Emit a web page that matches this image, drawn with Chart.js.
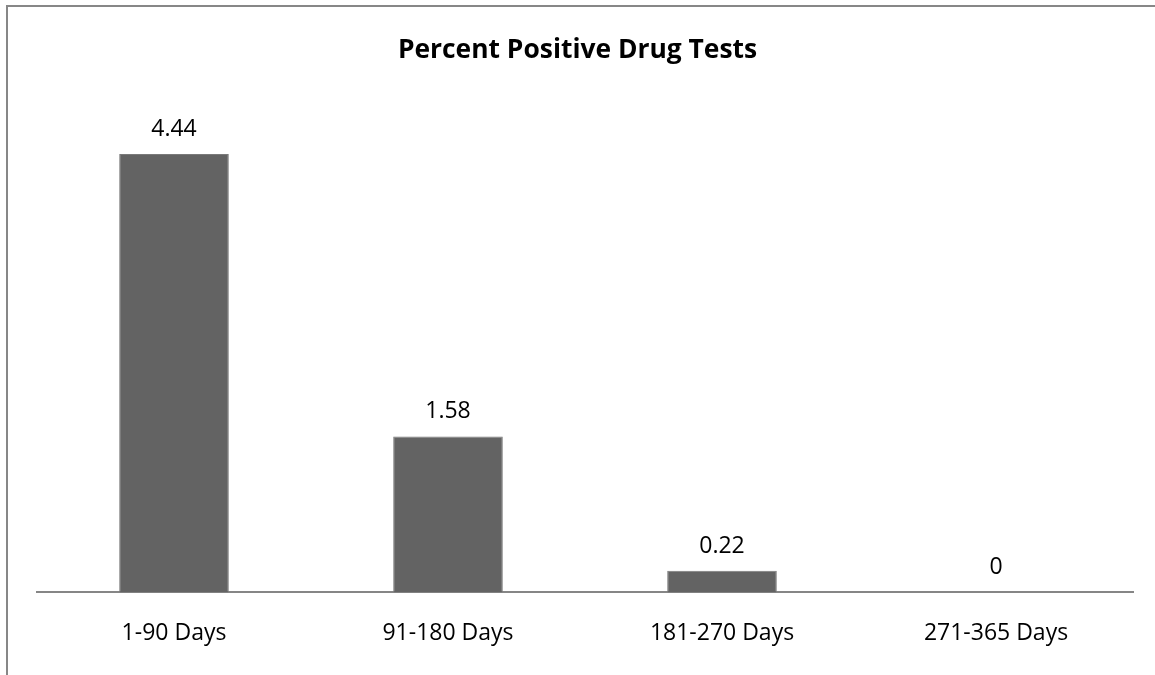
<!DOCTYPE html>
<html>
<head>
<meta charset="utf-8">
<script src="https://cdn.jsdelivr.net/npm/chart.js@4"></script>
<style>
  html, body { margin: 0; padding: 0; background: #fff; overflow: hidden; }
  #frame {
    position: absolute; left: 6px; top: 5px;
    width: 1300px; height: 800px;
    border-left: 2px solid #878787; border-top: 2px solid #878787;
  }
  #wrap { position: absolute; left: 0; top: 0; width: 1155px; height: 675px; }
</style>
</head>
<body>
<div id="frame"></div>
<div id="wrap"><canvas id="myChart"></canvas></div>
<script>
const categories = ['1-90 Days', '91-180 Days', '181-270 Days', '271-365 Days'];
const percentPositive = [4.44, 1.58, 0.22, 0];
const chartTitle = 'Percent Positive Drug Tests';

// labels above each bar
const barLabels = {
    id: 'barLabels',
    afterDatasetsDraw(chart) {
        const ctx = chart.ctx;
        const meta = chart.getDatasetMeta(0);
        ctx.save();
        ctx.font = '23px "Open Sans"';
        ctx.fillStyle = '#000';
        ctx.textAlign = 'center';
        ctx.textBaseline = 'alphabetic';
        meta.data.forEach((bar, i) => {
            ctx.fillText(String(percentPositive[i]), bar.x, bar.y - 18);
        });
        ctx.restore();
    }
};

document.addEventListener('DOMContentLoaded', function () {
    const ctx = document.getElementById('myChart').getContext('2d');
    new Chart(ctx, {
        type: 'bar',
        data: {
            labels: categories,
            datasets: [{
                data: percentPositive,
                backgroundColor: '#636363',
                borderColor: '#7a7a7a',
                borderWidth: 1,
                barPercentage: 0.8,
                categoryPercentage: 0.5
            }]
        },
        options: {
            responsive: true,
            maintainAspectRatio: false,
            animation: false,
            layout: { padding: { left: 16, right: 16, top: 0, bottom: 9 } },
            plugins: {
                legend: { display: false },
                tooltip: { enabled: false },
                title: {
                    display: true,
                    text: chartTitle,
                    color: '#000',
                    font: { family: 'Open Sans', size: 26.4, weight: 'bold' },
                    padding: { top: 35, bottom: 32 }
                }
            },
            scales: {
                y: {
                    min: 0,
                    max: 5,
                    grid: { display: false },
                    border: { display: false },
                    ticks: { display: false },
                    afterFit: function (scale) { scale.width = 21; }
                },
                yRight: {
                    position: 'right',
                    grid: { display: false },
                    border: { display: false },
                    ticks: { display: false },
                    afterFit: function (scale) { scale.width = 6; }
                },
                x: {
                    grid: { display: false },
                    border: { display: true, color: '#868686', width: 2 },
                    ticks: {
                        color: '#000',
                        font: { family: 'Open Sans', size: 23 },
                        padding: 19
                    }
                }
            }
        },
        plugins: [barLabels]
    });
});
</script>
</body>
</html>
